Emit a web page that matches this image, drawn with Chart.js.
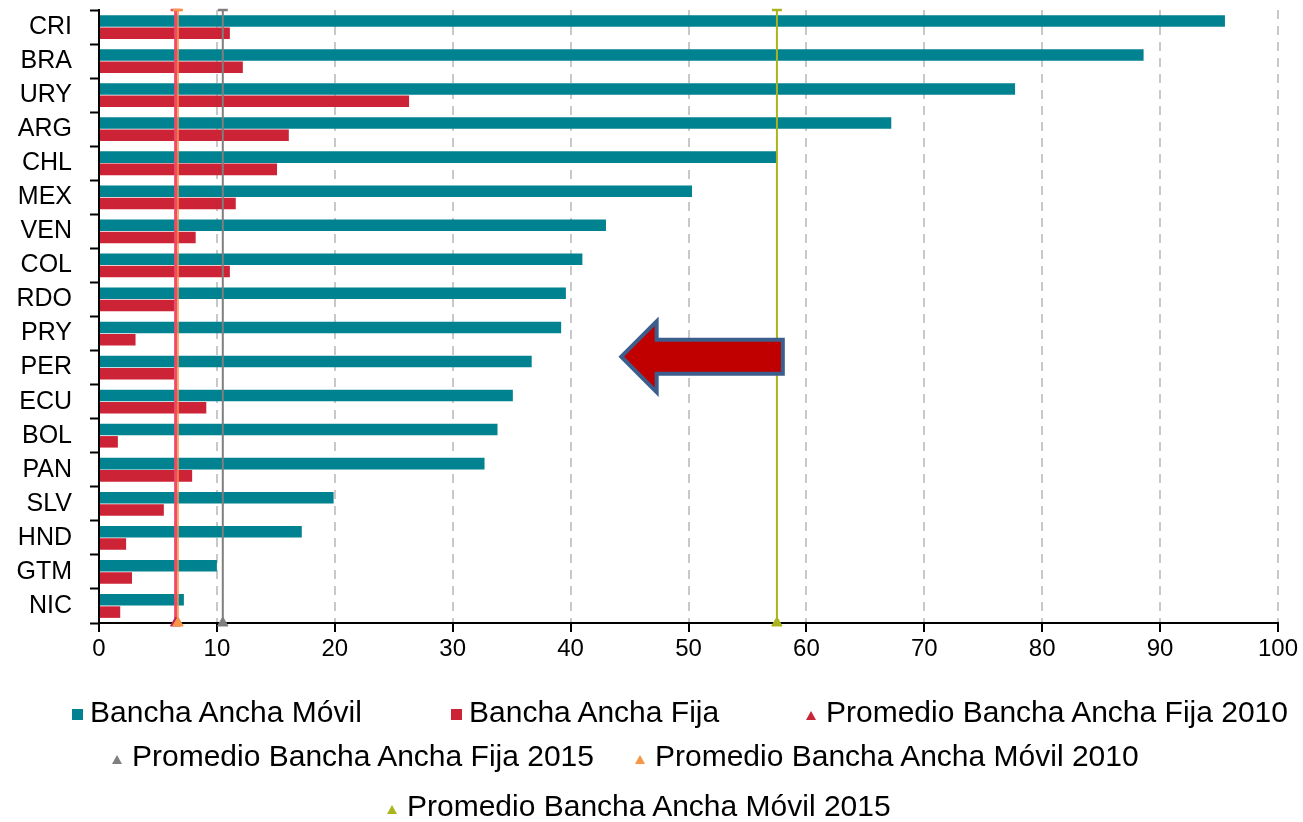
<!DOCTYPE html>
<html>
<head>
<meta charset="utf-8">
<script src="https://cdn.jsdelivr.net/npm/chart.js@4/dist/chart.umd.min.js"></script>
<style>
  html, body { margin: 0; padding: 0; background: #fff; }
  #wrap { position: relative; width: 1303px; height: 822px; }
  #c { position: absolute; left: 0; top: 0; }
  .lg { position: absolute; font-family: 'Liberation Sans', Arial, sans-serif; font-size: 30px; line-height: 34px; color: #000; white-space: nowrap; }
  .sq { position: absolute; width: 11px; height: 11px; }
  .tri { position: absolute; width: 0; height: 0; border-left: 5px solid transparent; border-right: 5px solid transparent; border-bottom: 9px solid #000; }
</style>
</head>
<body>
<div id="wrap">
  <canvas id="c" width="1303" height="822"></canvas>
  <div id="legend"></div>
</div>
<script>
// ---- data ----
const categories = ['CRI','BRA','URY','ARG','CHL','MEX','VEN','COL','RDO','PRY','PER','ECU','BOL','PAN','SLV','HND','GTM','NIC'];
const movil = [95.5, 88.6, 77.7, 67.2, 57.5, 50.3, 43.0, 41.0, 39.6, 39.2, 36.7, 35.1, 33.8, 32.7, 19.9, 17.2, 10.0, 7.2];
const fija  = [11.1, 12.2, 26.3, 16.1, 15.1, 11.6, 8.2, 11.1, 6.4, 3.1, 6.4, 9.1, 1.6, 7.9, 5.5, 2.3, 2.8, 1.8];
const promFija2010 = 6.5;
const promFija2015 = 10.5;
const promMovil2010 = 6.7;
const promMovil2015 = 57.5;
const xTicks = [0,10,20,30,40,50,60,70,80,90,100];
const seriesNames = ['Bancha Ancha Móvil','Bancha Ancha Fija','Promedio Bancha Ancha Fija 2010','Promedio Bancha Ancha Fija 2015','Promedio Bancha Ancha Móvil 2010','Promedio Bancha Ancha Móvil 2015'];

const C_TEAL = '#008290', C_RED = '#CC2336';

// vertical average line spanning the whole category axis (edges at -0.5 and n-0.5)
function vline(value) { return [{x: value, y: -0.5}, {x: value, y: categories.length - 0.5}]; }
function avgDataset(label, value, lineColor, markColor, width, order) {
  return {
    type: 'line', label, data: vline(value), parsing: false, xAxisID: 'x', yAxisID: 'y',
    borderColor: lineColor, borderWidth: width, clip: false, order,
    pointStyle: ['line', 'triangle'], pointRadius: [5, 6],
    pointBackgroundColor: markColor, pointBorderColor: [lineColor, markColor], pointBorderWidth: [2.5, 1],
    fill: false, tension: 0
  };
}

const arrowSpec = { fromX: 58.0, headX: 47.3, tipX: 44.3, yIndex: 9.68, headHalf: 1.04, shaftHalf: 0.5 };

const arrowPlugin = {
  id: 'arrow',
  afterDatasetsDraw(chart) {
    const xs = chart.scales.x, ys = chart.scales.y;
    const step = ys.getPixelForValue(1) - ys.getPixelForValue(0);
    const cy = ys.getPixelForValue(arrowSpec.yIndex);
    const x0 = xs.getPixelForValue(arrowSpec.fromX);
    const xh = xs.getPixelForValue(arrowSpec.headX);
    const xt = xs.getPixelForValue(arrowSpec.tipX);
    const hh = arrowSpec.headHalf * step, sh = arrowSpec.shaftHalf * step;
    const ctx = chart.ctx;
    ctx.save();
    ctx.beginPath();
    ctx.moveTo(xt, cy);
    ctx.lineTo(xh, cy - hh);
    ctx.lineTo(xh, cy - sh);
    ctx.lineTo(x0, cy - sh);
    ctx.lineTo(x0, cy + sh);
    ctx.lineTo(xh, cy + sh);
    ctx.lineTo(xh, cy + hh);
    ctx.closePath();
    ctx.fillStyle = '#C00000';
    ctx.fill();
    ctx.lineWidth = 4;
    ctx.lineJoin = 'miter';
    ctx.strokeStyle = '#3C5E8C';
    ctx.stroke();
    ctx.restore();
  }
};

const chart = new Chart(document.getElementById('c'), {
  type: 'bar',
  data: {
    labels: categories,
    datasets: [
      { label: seriesNames[0], data: movil, backgroundColor: C_TEAL, order: 1,
        categoryPercentage: 0.72, barPercentage: 0.94 },
      { label: seriesNames[1], data: fija, backgroundColor: C_RED, order: 1,
        categoryPercentage: 0.72, barPercentage: 0.94 },
      avgDataset(seriesNames[2], promFija2010, '#EE4A6A', '#C2255C', 3, -1),
      avgDataset(seriesNames[3], promFija2015, '#7F7F7F', '#7F7F7F', 2, -1),
      avgDataset(seriesNames[4], promMovil2010, '#F79646', '#F79646', 1.5, -2),
      avgDataset(seriesNames[5], promMovil2015, '#AAB51E', '#AAB51E', 2, -1)
    ]
  },
  options: {
    indexAxis: 'y',
    responsive: false,
    animation: false,
    layout: { autoPadding: false, padding: { top: 10, right: 25, bottom: 149, left: 0 } },
    plugins: { legend: { display: false }, tooltip: { enabled: false } },
    scales: {
      x: {
        type: 'linear', min: 0, max: 100, position: 'bottom',
        afterBuildTicks(s) { s.ticks = xTicks.map(v => ({ value: v })); },
        afterFit(s) { s.height = 50; },
        ticks: { color: '#000', font: { family: "'Liberation Sans', Arial, sans-serif", size: 24 }, padding: 3 },
        grid: { color: '#C8C8C8', lineWidth: 2, tickColor: '#000', tickWidth: 2, tickLength: 9 },
        border: { color: '#000', width: 2, dash: [9, 7] }
      },
      y: {
        type: 'category', position: 'left', offset: true,
        afterFit(s) { s.width = 99; s.paddingTop = 0; s.paddingBottom = 0; },
        ticks: { color: '#000', font: { family: "'Liberation Sans', Arial, sans-serif", size: 25 }, padding: 18, autoSkip: false },
        grid: { offset: true, drawOnChartArea: false, tickColor: '#000', tickWidth: 2, tickLength: 9, color: '#000' },
        border: { color: '#000', width: 2 }
      }
    }
  },
  plugins: [arrowPlugin]
});

// HTML legend
const legendItems = [
  { name: seriesNames[0], mark: 'sq', color: C_TEAL, left: 72, top: 695 },
  { name: seriesNames[1], mark: 'sq', color: C_RED, left: 451, top: 695 },
  { name: seriesNames[2], mark: 'tri', color: '#C8243A', left: 806, top: 695 },
  { name: seriesNames[3], mark: 'tri', color: '#7F7F7F', left: 112, top: 739 },
  { name: seriesNames[4], mark: 'tri', color: '#F79646', left: 635, top: 739 },
  { name: seriesNames[5], mark: 'tri', color: '#AAB51E', left: 387, top: 789 }
];
const lg = document.getElementById('legend');
legendItems.forEach(it => {
  const m = document.createElement('div');
  m.className = it.mark;
  if (it.mark === 'sq') { m.style.background = it.color; m.style.left = it.left + 'px'; m.style.top = (it.top + 14) + 'px'; }
  else { m.style.borderBottomColor = it.color; m.style.left = it.left + 'px'; m.style.top = (it.top + 16) + 'px'; }
  lg.appendChild(m);
  const t = document.createElement('div');
  t.className = 'lg';
  t.textContent = it.name;
  t.style.left = (it.left + (it.mark === 'sq' ? 18 : 20)) + 'px';
  t.style.top = it.top + 'px';
  lg.appendChild(t);
});
</script>
</body>
</html>
